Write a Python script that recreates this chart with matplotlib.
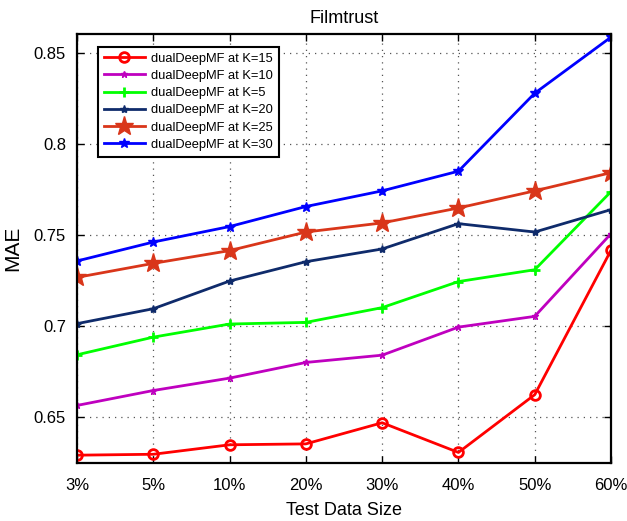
import matplotlib
matplotlib.use("Agg")
import matplotlib.pyplot as plt

categories = ["3%", "5%", "10%", "20%", "30%", "40%", "50%", "60%"]
k15 = [0.6293, 0.6298, 0.6350, 0.6355, 0.6471, 0.6308, 0.6625, 0.7418]
k10 = [0.6566, 0.6648, 0.6716, 0.6802, 0.6842, 0.6996, 0.7055, 0.7509]
k5 = [0.6844, 0.6941, 0.7013, 0.7022, 0.7103, 0.7246, 0.7311, 0.7740]
k20 = [0.7015, 0.7097, 0.7249, 0.7355, 0.7425, 0.7564, 0.7518, 0.7641]
k25 = [0.7269, 0.7346, 0.7416, 0.7518, 0.7568, 0.7650, 0.7744, 0.7844]
k30 = [0.7359, 0.7463, 0.7548, 0.7658, 0.7744, 0.7852, 0.8280, 0.8588]
yticks = [0.65, 0.7, 0.75, 0.8, 0.85]
ytick_labels = ["0.65", "0.7", "0.75", "0.8", "0.85"]

plt.rcParams['font.family'] = ['Liberation Sans', 'DejaVu Sans']

fig = plt.figure(figsize=(6.27, 5.21), dpi=100)
ax = fig.add_axes([0.1228, 0.1113, 0.8517, 0.8234])
x = list(range(len(categories)))

ax.plot(x, k15, color='#FF0000', lw=2, marker='o', ms=7, mfc='none', mew=2, label='dualDeepMF at K=15')
ax.plot(x, k10, color='#BF00BF', lw=2, marker='*', ms=5, label='dualDeepMF at K=10')
ax.plot(x, k5, color='#00FF00', lw=2, marker='+', ms=7, mew=2, label='dualDeepMF at K=5')
ax.plot(x, k20, color='#0F2B6B', lw=2, marker='*', ms=6, label='dualDeepMF at K=20')
ax.plot(x, k25, color='#D9361A', lw=2, marker='*', ms=14, label='dualDeepMF at K=25')
ax.plot(x, k30, color='#0000FF', lw=2, marker='*', ms=7, label='dualDeepMF at K=30')

ax.set_xlim(0, len(categories) - 1)
ax.set_ylim(0.625, 0.8605)
ax.set_xticks(x)
ax.set_xticklabels(categories)
ax.set_yticks(yticks)
ax.set_yticklabels(ytick_labels)
ax.tick_params(direction='in', top=True, right=True, labelsize=12, length=5, width=1)
ax.tick_params(axis='x', pad=11)
ax.tick_params(axis='y', pad=8)
ax.grid(True, linestyle=(0, (1, 4)), color='#555555', lw=0.9)
for s in ax.spines.values():
    s.set_linewidth(1.6)
    s.set_color('black')

ax.set_xlabel('Test Data Size', fontsize=13, labelpad=6)
ax.set_ylabel('MAE', fontsize=15, labelpad=8)
ax.set_title('Filmtrust', fontsize=13, pad=8)

leg = ax.legend(loc='upper left', bbox_to_anchor=(0.039, 0.970), fontsize=9.3, frameon=True,
                fancybox=False, edgecolor='black', framealpha=1, borderpad=0.45,
                labelspacing=0.4, handlelength=3.2, handletextpad=0.5, borderaxespad=0)
leg.get_frame().set_linewidth(1.5)

fig.savefig('out.png', dpi=100)
